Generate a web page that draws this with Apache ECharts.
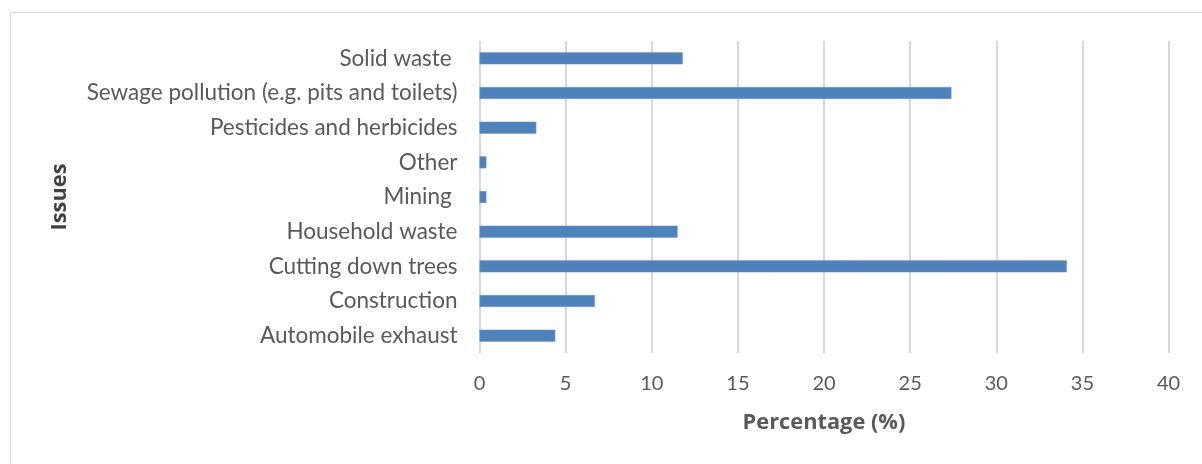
<!DOCTYPE html>
<html><head><meta charset="utf-8">
<script src="https://cdn.jsdelivr.net/npm/echarts@6/dist/echarts.min.js"></script>
<style>html,body{margin:0;padding:0;background:#fff}#c{width:1202px;height:464px}</style>
</head><body><div id="c"></div>
<script>
const categories = ["Automobile exhaust","Construction","Cutting down trees","Household waste","Mining ","Other","Pesticides and herbicides","Sewage pollution (e.g. pits and toilets)","Solid waste "];
const values = [4.4, 6.7, 34.1, 11.5, 0.4, 0.4, 3.3, 27.4, 11.8];
const xTicks = [0,5,10,15,20,25,30,35,40];
const FONT = "Lato";
const TFONT = "Open Sans";
const chart = echarts.init(document.getElementById('c'), null, {renderer:'canvas'});
chart.setOption({
  animation:false,
  backgroundColor:'#fff',
  graphic:[{type:'rect',shape:{x:10.5,y:12.5,width:1300,height:600},style:{fill:'none',stroke:'#d9d9d9',lineWidth:1},silent:true}],
  grid:{left:479.5,right:33.5,top:41,bottom:111,containLabel:false},
  xAxis:{type:'value',min:0,max:40,interval:5,
    name:'Percentage (%)',nameLocation:'middle',nameGap:59,
    nameTextStyle:{fontFamily:TFONT,fontSize:21.8,fontWeight:'bold',color:'#595959'},
    axisLine:{show:false},axisTick:{show:false},
    axisLabel:{fontFamily:FONT,fontSize:20,color:'#595959',margin:21,formatter:v=>xTicks.includes(v)?String(v):''},
    splitLine:{show:true,lineStyle:{color:'#d9d9d9',width:2}}},
  yAxis:{type:'category',data:categories,
    name:'Issues',nameLocation:'middle',nameGap:408.5,nameRotate:90,
    nameTextStyle:{fontFamily:TFONT,fontSize:21.8,fontWeight:'bold',color:'#404040'},
    axisLine:{show:false},axisTick:{show:false},
    axisLabel:{fontFamily:FONT,fontSize:22.5,color:'#595959',margin:22}},
  series:[{type:'bar',data:values,barWidth:12,itemStyle:{color:'#4f81bd',borderColor:'#6d97c9',borderWidth:0.5}}]
});
</script></body></html>
